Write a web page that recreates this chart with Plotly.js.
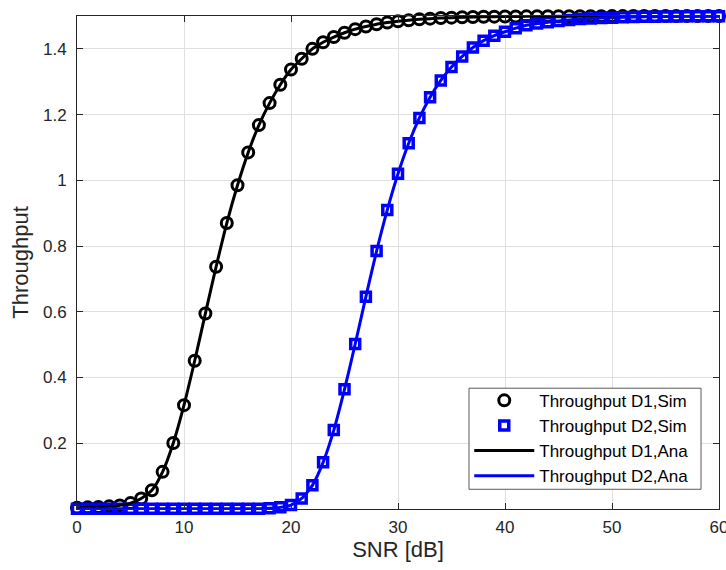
<!DOCTYPE html>
<html>
<head>
<meta charset="utf-8">
<script src="https://cdn.plot.ly/plotly-3.0.1.min.js"></script>
<style>html,body{margin:0;padding:0;background:#fff;}#chart{width:726px;height:570px;}</style>
</head>
<body>
<div id="chart"></div>
<script>
const snr = [];
for (let i = 0; i <= 60; i++) snr.push(i);

const d1Sim = [0.004,0.005,0.006,0.008,0.011,0.018,0.032,0.057,0.113,0.201,
  0.316,0.451,0.595,0.737,0.870,0.985,1.085,1.168,1.235,1.291,
  1.337,1.370,1.400,1.420,1.436,1.449,1.460,1.468,1.475,1.480,
  1.484,1.487,1.490,1.492,1.494,1.495,1.496,1.497,1.4975,1.498,
  1.4984,1.4987,1.4989,1.4991,1.4992,1.4993,1.4994,1.4995,1.4996,1.4996,
  1.4997,1.4997,1.4998,1.4998,1.4998,1.4999,1.4999,1.4999,1.4999,1.4999,1.4999];

const d2Sim = [0.001,0.001,0.001,0.001,0.001,0.001,0.001,0.001,0.001,0.001,
  0.001,0.001,0.001,0.001,0.001,0.001,0.001,0.001,0.002,0.005,
  0.012,0.032,0.072,0.142,0.240,0.364,0.502,0.646,0.785,0.910,
  1.020,1.113,1.190,1.253,1.304,1.345,1.377,1.404,1.425,1.440,
  1.452,1.463,1.472,1.477,1.481,1.485,1.488,1.4905,1.4925,1.494,
  1.495,1.496,1.497,1.4976,1.498,1.4985,1.4988,1.499,1.4992,1.4994,1.4995];

const d1Ana = d1Sim.slice();
const d2Ana = d2Sim.slice();

const yTickVals = [0.2,0.4,0.6,0.8,1,1.2,1.4];
const yTickText = ['0.2','0.4','0.6','0.8','1','1.2','1.4'];
const xTickVals = [0,10,20,30,40,50,60];

const names = ['Throughput D1,Sim','Throughput D2,Sim','Throughput D1,Ana','Throughput D2,Ana'];

const txt = '#262626';
const traces = [
  {x: snr, y: d1Sim, name: names[0], mode: 'markers', type: 'scatter', cliponaxis: false,
   marker: {symbol: 'circle-open', size: 11, color: '#000000', line: {width: 3, color: '#000000'}}},
  {x: snr, y: d2Sim, name: names[1], mode: 'markers', type: 'scatter', cliponaxis: false,
   marker: {symbol: 'square-open', size: 9, color: '#0000ff', line: {width: 3.5, color: '#0000ff'}}},
  {x: snr, y: d1Ana, name: names[2], mode: 'lines', type: 'scatter', cliponaxis: false,
   line: {color: '#000000', width: 3, shape: 'spline', smoothing: 0.6}},
  {x: snr, y: d2Ana, name: names[3], mode: 'lines', type: 'scatter', cliponaxis: false,
   line: {color: '#0000ff', width: 3, shape: 'spline', smoothing: 0.6}}
];

const layout = {
  width: 726, height: 570,
  margin: {l: 77, r: 7, t: 16, b: 61},
  paper_bgcolor: '#ffffff', plot_bgcolor: '#ffffff',
  font: {family: 'Liberation Sans, Arial, sans-serif', color: txt, size: 17},
  showlegend: true,
  legend: {
    x: 0.611, y: 0.256, xanchor: 'left', yanchor: 'top',
    bgcolor: 'rgba(0,0,0,0)', bordercolor: 'rgba(0,0,0,0)', borderwidth: 0,
    font: {size: 17, color: '#000000', family: 'Liberation Sans, Arial, sans-serif'},
    itemwidth: 60, traceorder: 'normal'
  },
  shapes: [{
    type: 'rect', xref: 'paper', yref: 'paper', layer: 'above',
    x0: 0.6106, x1: 0.972, y0: 0.040, y1: 0.245,
    fillcolor: '#ffffff', line: {color: '#5a5a5a', width: 1}
  }],
  xaxis: {
    range: [0, 60], tickvals: xTickVals, ticktext: xTickVals.map(String),
    showline: true, mirror: 'ticks', linecolor: txt, linewidth: 1,
    ticks: 'inside', ticklen: 6, tickcolor: txt,
    showgrid: true, gridcolor: '#dfdfdf', gridwidth: 1, zeroline: false,
    tickfont: {size: 17, color: txt}, ticklabelstandoff: 3, ticklabeloverflow: 'allow',
    title: {text: 'SNR [dB]', font: {size: 22, color: txt}, standoff: 5}
  },
  yaxis: {
    range: [0, 1.5], tickvals: yTickVals, ticktext: yTickText,
    showline: true, mirror: 'ticks', linecolor: txt, linewidth: 1,
    ticks: 'inside', ticklen: 6, tickcolor: txt,
    showgrid: true, gridcolor: '#dfdfdf', gridwidth: 1, zeroline: false,
    tickfont: {size: 17, color: txt}, ticklabelstandoff: 6,
    title: {text: 'Throughput', font: {size: 22, color: txt}, standoff: 8}
  }
};

Plotly.newPlot('chart', traces, layout, {displayModeBar: false, staticPlot: true});
</script>
</body>
</html>
